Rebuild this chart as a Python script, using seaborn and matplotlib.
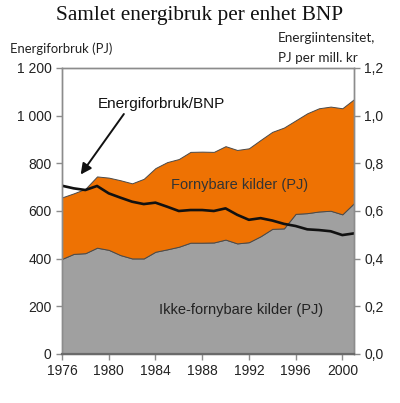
import matplotlib
matplotlib.use("Agg")
import matplotlib.pyplot as plt
import matplotlib.ticker as mticker
import seaborn as sns
import pandas as pd

# ---- data ----
years = list(range(1976, 2002))
ikke_fornybar = [399, 420, 423, 446, 437, 415, 401, 401, 429, 439, 450, 467, 467,
                 468, 480, 464, 469, 494, 525, 527, 588, 591, 598, 601, 586, 633]
total = [657, 674, 693, 745, 740, 729, 716, 735, 780, 805, 818, 848, 849,
         848, 872, 856, 863, 898, 932, 950, 980, 1010, 1031, 1038, 1031, 1069]
intensitet = [0.706, 0.695, 0.688, 0.705, 0.674, 0.656, 0.639, 0.629, 0.635, 0.618,
              0.600, 0.604, 0.604, 0.600, 0.611, 0.584, 0.563, 0.570, 0.560, 0.546,
              0.537, 0.523, 0.520, 0.515, 0.499, 0.506]

fornybar = [t - b for t, b in zip(total, ikke_fornybar)]
df = pd.DataFrame({"year": years, "ikke": ikke_fornybar, "forny": fornybar, "int": intensitet})

ORANGE = "#EE7203"
GREY = "#A0A0A0"
EDGE = "#4A4A4A"
SPINE = "#8C8C8C"
TEXT = "#222222"

sns.set_theme(style="ticks")
plt.rcParams["font.family"] = ["Liberation Sans", "DejaVu Sans"]

fig = plt.figure(figsize=(4.0, 4.03), dpi=100)
ax = fig.add_axes([0.155, 0.1216, 0.73, 0.7097])

ax.stackplot(df["year"], df["ikke"], df["forny"], colors=[GREY, ORANGE],
             edgecolor=EDGE, linewidth=0.7)
ax.set_xlim(1976, 2001)
ax.set_ylim(0, 1200)
ax.yaxis.set_major_locator(mticker.MultipleLocator(200))
ax.yaxis.set_major_formatter(mticker.FuncFormatter(lambda v, p: f"{int(v):,}".replace(",", " ")))
ax.set_xticks(range(1976, 2001, 4))

ax2 = ax.twinx()
sns.lineplot(data=df, x="year", y="int", ax=ax2, color="#111111", linewidth=1.9)
ax2.set_ylim(0, 1.2)
ax2.yaxis.set_major_locator(mticker.MultipleLocator(0.2))
ax2.yaxis.set_major_formatter(mticker.FuncFormatter(lambda v, p: f"{v:.1f}".replace(".", ",")))
ax2.set_xlabel("")
ax2.set_ylabel("")
ax.set_xlabel("")
ax.set_ylabel("")

for a in (ax, ax2):
    for s in a.spines.values():
        s.set_color(SPINE)
        s.set_linewidth(1.0)
    a.tick_params(colors=SPINE, labelcolor=TEXT, labelsize=10, length=4, width=1.0)
ax2.spines["bottom"].set_color("#6A6A6A")
ax2.spines["bottom"].set_linewidth(1.6)

# labels inside the chart (drawn on the top axes so the line does not cover them)
ax2.text(1985.3, 709, "Fornybare kilder (PJ)", fontsize=10.5, color="#333333",
         va="center", transform=ax.transData)
ax2.text(1984.3, 185, "Ikke-fornybare kilder (PJ)", fontsize=10.5, color="#222222",
         va="center", transform=ax.transData)
ax2.annotate("Energiforbruk/BNP", xy=(1977.6, 0.753), xytext=(1979.1, 1.05),
             fontsize=11, color="#111111", va="center", ha="left",
             arrowprops=dict(arrowstyle="-|>", color="#111111", lw=1.4,
                             mutation_scale=16, shrinkA=0, shrinkB=0,
                             relpos=(0.22, 0.0)))

# headers
fig.text(0.5, 0.962, "Samlet energibruk per enhet BNP", ha="center", va="center",
         fontsize=15.3, family=["Liberation Serif", "DejaVu Serif"], color="#111111")
fig.text(0.025, 0.88, "Energiforbruk (PJ)", ha="left", va="center", fontsize=9.4,
         family=["Lato", "DejaVu Sans"], color=TEXT)
fig.text(0.695, 0.905, "Energiintensitet,", ha="left", va="center", fontsize=9.7,
         family=["Lato", "DejaVu Sans"], color=TEXT)
fig.text(0.695, 0.856, "PJ per mill. kr", ha="left", va="center", fontsize=9.7,
         family=["Lato", "DejaVu Sans"], color=TEXT)

fig.savefig("out.png", dpi=100)
